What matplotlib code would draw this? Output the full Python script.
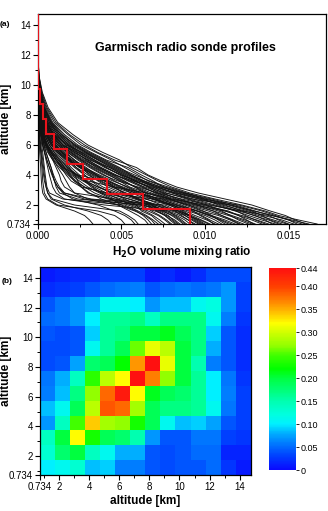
import numpy as np
import matplotlib
matplotlib.use("Agg")
import matplotlib.pyplot as plt
from matplotlib.colors import LinearSegmentedColormap, Normalize

plt.rcParams["font.family"] = ["Liberation Sans", "DejaVu Sans"]

# ---------------------------------------------------------------
# (a) sonde profiles: H2O vmr in units of 1e-3 at these altitudes
# ---------------------------------------------------------------
levels_km = [0.734, 1.0, 1.3, 1.6, 2.0, 2.4, 2.8, 3.2, 3.6, 4.0, 4.5,
             5.0, 5.5, 6.0, 6.7, 7.5, 8.5, 9.5, 10.5, 11.5, 14.734]

sonde_vmr_e3 = [
    [16.7, 15.6, 14.4, 13.6, 12.2, 10.6, 9.1, 8.0, 7.2, 6.5, 5.6, 4.9, 3.9, 3.0, 2.1, 1.2, 0.62, 0.28, 0.10, 0.03, 0.005],
    [16.2, 15.2, 14.0, 13.0, 11.8, 10.4, 8.8, 7.6, 6.6, 6.0, 5.2, 4.4, 3.5, 2.6, 1.8, 1.0, 0.50, 0.22, 0.08, 0.02, 0.004],
    [15.8, 15.0, 14.2, 13.4, 12.0, 9.9, 8.4, 7.5, 6.9, 6.2, 5.4, 4.1, 3.2, 2.4, 1.6, 0.9, 0.45, 0.20, 0.07, 0.02, 0.004],
    [15.3, 14.6, 13.5, 12.6, 11.4, 10.0, 8.9, 7.8, 6.7, 5.8, 4.8, 3.9, 3.0, 2.2, 1.5, 0.85, 0.40, 0.18, 0.06, 0.02, 0.004],
    [14.9, 14.1, 13.2, 12.4, 11.0, 9.6, 8.2, 7.0, 6.2, 5.5, 4.6, 3.7, 2.8, 2.0, 1.3, 0.75, 0.36, 0.16, 0.05, 0.02, 0.004],
    [14.6, 13.9, 13.4, 12.8, 11.6, 9.2, 7.6, 6.6, 5.8, 5.1, 4.3, 3.4, 2.6, 1.9, 1.2, 0.7, 0.35, 0.15, 0.05, 0.01, 0.003],
    [14.2, 13.4, 12.6, 11.8, 10.6, 9.3, 8.0, 6.8, 5.8, 5.0, 4.0, 3.2, 2.5, 1.8, 1.1, 0.6, 0.30, 0.12, 0.04, 0.01, 0.003],
    [13.8, 13.1, 12.2, 11.2, 10.1, 8.9, 7.7, 6.9, 6.1, 5.3, 4.4, 3.6, 2.7, 1.7, 1.0, 0.55, 0.28, 0.12, 0.04, 0.01, 0.003],
    [13.4, 12.8, 12.0, 11.4, 9.8, 8.2, 7.1, 6.2, 5.4, 4.7, 3.8, 3.0, 2.2, 1.6, 0.95, 0.5, 0.25, 0.10, 0.04, 0.01, 0.003],
    [13.0, 12.4, 11.6, 10.8, 9.6, 8.5, 7.4, 6.4, 5.5, 4.6, 3.6, 2.7, 2.0, 1.4, 0.85, 0.45, 0.22, 0.09, 0.03, 0.01, 0.003],
    [12.6, 12.0, 11.5, 11.0, 10.0, 8.0, 6.6, 5.8, 5.1, 4.4, 3.5, 2.9, 2.3, 1.7, 1.1, 0.6, 0.30, 0.13, 0.05, 0.02, 0.003],
    [12.3, 11.7, 11.0, 10.2, 9.0, 7.8, 6.8, 5.9, 5.0, 4.2, 3.3, 2.6, 1.9, 1.3, 0.8, 0.42, 0.20, 0.08, 0.03, 0.01, 0.003],
    [11.8, 11.2, 10.4, 9.6, 8.4, 7.2, 6.1, 5.3, 4.6, 4.0, 3.2, 2.5, 1.8, 1.2, 0.7, 0.38, 0.18, 0.08, 0.03, 0.01, 0.003],
    [11.4, 10.9, 10.2, 9.5, 8.6, 7.5, 5.6, 4.6, 4.0, 3.5, 2.9, 2.2, 1.6, 1.1, 0.65, 0.35, 0.17, 0.07, 0.03, 0.01, 0.003],
    [11.0, 10.6, 10.0, 9.2, 8.0, 6.8, 5.8, 5.0, 4.3, 3.6, 2.7, 2.0, 1.5, 1.0, 0.6, 0.32, 0.16, 0.07, 0.02, 0.01, 0.003],
    [10.6, 10.1, 9.4, 8.8, 7.8, 6.9, 6.2, 5.4, 4.5, 3.7, 2.8, 2.1, 1.4, 0.9, 0.55, 0.3, 0.15, 0.06, 0.02, 0.01, 0.002],
    [10.3, 9.8, 9.2, 8.4, 7.2, 6.0, 5.0, 4.2, 3.6, 3.1, 2.6, 2.0, 1.5, 1.0, 0.6, 0.32, 0.15, 0.06, 0.02, 0.01, 0.002],
    [10.0, 9.6, 9.0, 8.6, 7.9, 6.4, 4.8, 3.9, 3.3, 2.8, 2.2, 1.7, 1.2, 0.8, 0.5, 0.27, 0.13, 0.05, 0.02, 0.01, 0.002],
    [9.7, 9.3, 8.8, 8.0, 7.0, 6.1, 5.3, 4.4, 3.7, 3.0, 2.3, 1.8, 1.3, 0.9, 0.5, 0.25, 0.12, 0.05, 0.02, 0.01, 0.002],
    [9.4, 9.0, 8.5, 7.8, 6.6, 5.4, 4.4, 3.7, 3.2, 2.8, 2.3, 1.9, 1.5, 1.1, 0.7, 0.36, 0.17, 0.07, 0.02, 0.01, 0.002],
    [9.1, 8.8, 8.3, 7.6, 6.8, 5.8, 4.6, 3.6, 2.8, 2.2, 1.6, 1.2, 0.9, 0.6, 0.35, 0.2, 0.1, 0.04, 0.02, 0.01, 0.002],
    [8.8, 8.5, 8.1, 7.4, 6.4, 5.0, 3.8, 3.2, 2.8, 2.5, 2.0, 1.6, 1.2, 0.8, 0.45, 0.24, 0.11, 0.05, 0.02, 0.01, 0.002],
    [8.5, 8.2, 7.7, 7.0, 5.8, 4.6, 3.8, 3.3, 2.9, 2.4, 1.8, 1.3, 0.9, 0.6, 0.35, 0.18, 0.09, 0.04, 0.02, 0.01, 0.002],
    [8.2, 7.9, 7.6, 7.2, 6.3, 4.2, 3.0, 2.6, 2.4, 2.2, 1.9, 1.5, 1.1, 0.7, 0.4, 0.22, 0.1, 0.04, 0.02, 0.01, 0.002],
    [7.9, 7.6, 7.2, 6.6, 5.6, 4.8, 4.1, 3.4, 2.7, 2.1, 1.5, 1.1, 0.8, 0.5, 0.3, 0.15, 0.07, 0.03, 0.01, 0.005, 0.002],
    [7.6, 7.3, 6.9, 6.4, 5.4, 4.3, 3.4, 2.8, 2.3, 1.9, 1.4, 1.0, 0.7, 0.45, 0.25, 0.13, 0.06, 0.03, 0.01, 0.005, 0.002],
    [12.0, 11.5, 10.8, 9.8, 8.8, 7.9, 7.0, 6.3, 5.6, 4.9, 4.1, 3.3, 2.4, 1.5, 0.9, 0.5, 0.25, 0.1, 0.04, 0.01, 0.003],
    [10.8, 10.3, 9.8, 9.0, 8.0, 7.1, 6.4, 5.8, 5.2, 4.5, 3.7, 3.0, 2.2, 1.5, 0.9, 0.5, 0.24, 0.1, 0.03, 0.01, 0.003],
    [9.6, 9.2, 8.8, 8.4, 7.6, 3.2, 1.6, 1.2, 1.0, 0.9, 0.8, 0.65, 0.5, 0.38, 0.25, 0.14, 0.07, 0.03, 0.01, 0.005, 0.002],
    [8.9, 8.6, 8.2, 7.8, 4.0, 1.6, 1.1, 0.9, 0.8, 0.7, 0.6, 0.5, 0.4, 0.3, 0.2, 0.12, 0.06, 0.03, 0.01, 0.005, 0.002],
    [8.0, 7.7, 7.3, 6.8, 6.2, 2.4, 1.3, 1.1, 1.0, 0.9, 0.7, 0.55, 0.42, 0.3, 0.2, 0.1, 0.05, 0.02, 0.01, 0.005, 0.002],
    [7.2, 6.9, 6.5, 6.0, 5.2, 1.5, 0.7, 0.55, 0.5, 0.45, 0.4, 0.35, 0.3, 0.24, 0.16, 0.1, 0.05, 0.02, 0.01, 0.005, 0.002],
    [6.6, 6.4, 6.0, 5.5, 4.8, 2.8, 1.6, 1.3, 1.1, 0.95, 0.8, 0.65, 0.5, 0.36, 0.22, 0.12, 0.06, 0.03, 0.01, 0.005, 0.002],
    [6.0, 5.8, 5.4, 4.9, 2.2, 0.9, 0.6, 0.5, 0.45, 0.4, 0.35, 0.3, 0.24, 0.18, 0.12, 0.07, 0.04, 0.02, 0.01, 0.005, 0.002],
    [5.2, 5.0, 4.6, 3.6, 1.2, 0.6, 0.4, 0.35, 0.3, 0.28, 0.25, 0.22, 0.18, 0.14, 0.1, 0.06, 0.03, 0.015, 0.01, 0.005, 0.002],
    [4.4, 4.2, 3.8, 3.0, 1.6, 0.8, 0.6, 0.5, 0.4, 0.35, 0.3, 0.25, 0.2, 0.15, 0.1, 0.06, 0.03, 0.015, 0.01, 0.005, 0.002],
    [3.3, 3.1, 2.8, 2.2, 1.1, 0.5, 0.3, 0.25, 0.22, 0.2, 0.18, 0.15, 0.12, 0.1, 0.07, 0.04, 0.02, 0.01, 0.005, 0.003, 0.001],
    [11.6, 11.0, 10.3, 9.5, 8.2, 6.9, 4.2, 2.6, 2.0, 1.7, 1.4, 1.1, 0.8, 0.55, 0.32, 0.17, 0.08, 0.04, 0.01, 0.005, 0.002],
    [12.8, 12.2, 11.4, 10.5, 9.2, 7.8, 6.5, 4.6, 3.0, 2.3, 1.8, 1.4, 1.0, 0.7, 0.4, 0.2, 0.1, 0.04, 0.02, 0.01, 0.002],
    [10.2, 9.7, 9.0, 8.2, 7.0, 5.9, 5.1, 4.6, 4.0, 2.4, 1.5, 1.1, 0.8, 0.55, 0.3, 0.16, 0.08, 0.03, 0.01, 0.005, 0.002],
    [7.0, 6.8, 6.4, 5.8, 4.8, 3.8, 3.1, 2.6, 2.2, 1.8, 1.3, 0.9, 0.6, 0.4, 0.22, 0.12, 0.06, 0.03, 0.01, 0.005, 0.002],
    [15.0, 14.4, 13.8, 12.2, 10.2, 8.6, 7.2, 6.0, 4.8, 3.9, 3.1, 2.4, 1.8, 1.3, 0.8, 0.42, 0.2, 0.08, 0.03, 0.01, 0.003],
    [16.0, 15.4, 14.8, 13.9, 12.8, 11.2, 9.6, 8.3, 7.4, 6.6, 5.9, 4.6, 3.6, 2.8, 1.9, 1.1, 0.55, 0.25, 0.09, 0.03, 0.004],
    [14.0, 13.6, 13.0, 12.0, 10.8, 9.9, 8.6, 7.3, 6.4, 5.6, 4.9, 4.0, 3.1, 2.3, 1.4, 0.8, 0.4, 0.17, 0.06, 0.02, 0.003],
    [13.6, 13.0, 12.4, 11.9, 10.4, 9.0, 8.1, 7.2, 6.0, 5.0, 4.1, 3.4, 2.6, 1.9, 1.2, 0.65, 0.3, 0.13, 0.05, 0.02, 0.003],
    [12.9, 12.5, 12.0, 11.2, 9.4, 8.0, 7.2, 6.6, 5.9, 5.2, 4.3, 3.1, 2.4, 1.8, 1.0, 0.55, 0.27, 0.11, 0.04, 0.01, 0.003],
    [11.2, 10.8, 10.4, 9.9, 9.0, 7.6, 6.5, 5.5, 4.9, 4.3, 3.4, 2.6, 2.0, 1.4, 0.8, 0.42, 0.2, 0.08, 0.03, 0.01, 0.003],
    [10.5, 10.2, 9.7, 9.3, 8.3, 7.4, 6.0, 5.1, 4.1, 3.4, 2.5, 1.9, 1.3, 0.9, 0.55, 0.3, 0.14, 0.06, 0.02, 0.01, 0.002],
    [9.9, 9.5, 9.1, 8.7, 8.1, 7.0, 5.9, 4.8, 4.0, 3.3, 2.7, 2.2, 1.7, 1.2, 0.75, 0.4, 0.18, 0.07, 0.03, 0.01, 0.002],
    [9.3, 9.0, 8.6, 8.2, 7.4, 6.5, 5.6, 4.9, 4.2, 3.5, 2.6, 1.8, 1.2, 0.85, 0.5, 0.27, 0.12, 0.05, 0.02, 0.01, 0.002],
    [8.7, 8.4, 8.0, 7.5, 6.9, 6.0, 5.2, 4.5, 3.8, 3.2, 2.5, 1.9, 1.4, 1.0, 0.6, 0.3, 0.14, 0.06, 0.02, 0.01, 0.002],
    [8.3, 8.0, 7.6, 7.1, 6.6, 5.5, 4.0, 2.8, 2.2, 1.9, 1.6, 1.3, 1.0, 0.7, 0.42, 0.22, 0.1, 0.04, 0.02, 0.01, 0.002],
    [7.4, 7.1, 6.8, 6.2, 5.9, 5.2, 4.4, 3.6, 2.9, 2.3, 1.7, 1.2, 0.85, 0.55, 0.3, 0.16, 0.08, 0.03, 0.01, 0.005, 0.002],
    [6.8, 6.6, 6.3, 5.9, 5.0, 4.4, 3.7, 3.0, 2.5, 2.0, 1.5, 1.1, 0.75, 0.5, 0.28, 0.15, 0.07, 0.03, 0.01, 0.005, 0.002],
    [9.8, 9.4, 9.0, 8.5, 6.0, 3.0, 2.2, 1.9, 1.7, 1.5, 1.2, 0.95, 0.7, 0.5, 0.3, 0.16, 0.08, 0.03, 0.01, 0.005, 0.002],
    [8.4, 8.1, 7.8, 7.3, 6.8, 4.6, 2.2, 1.6, 1.4, 1.3, 1.1, 0.9, 0.65, 0.45, 0.28, 0.15, 0.07, 0.03, 0.01, 0.005, 0.002],
    [5.8, 5.6, 5.2, 4.6, 3.6, 2.1, 1.5, 1.2, 1.0, 0.85, 0.7, 0.55, 0.42, 0.3, 0.18, 0.1, 0.05, 0.02, 0.01, 0.005, 0.002],
    [12.1, 11.6, 11.0, 10.5, 9.5, 8.3, 7.5, 6.7, 5.7, 4.6, 3.7, 2.8, 2.1, 1.5, 0.95, 0.5, 0.24, 0.1, 0.04, 0.01, 0.003],
    [14.4, 13.8, 12.9, 12.2, 11.2, 9.7, 8.3, 7.1, 6.3, 5.6, 4.7, 3.8, 2.9, 2.1, 1.3, 0.7, 0.33, 0.14, 0.05, 0.02, 0.003],
    [15.5, 15.0, 14.0, 12.9, 11.5, 10.2, 8.7, 7.4, 6.3, 5.4, 4.5, 3.6, 2.9, 2.2, 1.4, 0.8, 0.38, 0.16, 0.06, 0.02, 0.004],
]

# layer-mean profile (red staircase), layers 0.734 + 1 km each
layer_edges_km = [0.734, 1.734, 2.734, 3.734, 4.734, 5.734, 6.734, 7.734,
                  8.734, 9.734, 10.734, 11.734, 12.734, 13.734, 14.734]
layer_mean_vmr = [0.00908, 0.00628, 0.00413, 0.00273, 0.00174, 0.00100,
                  0.00050, 0.00030, 0.00014, 0.00004, 0.00001, 0.0, 0.0, 0.0]

# ---------------------------------------------------------------
# (b) 14 x 14 matrix, rows listed from top (14.2 km) to bottom (1.2 km)
# ---------------------------------------------------------------
matrix_rows_top_down = [
    [0.010, 0.015, 0.020, 0.020, 0.030, 0.030, 0.030, 0.010, 0.020, 0.010, 0.020, 0.035, 0.035, 0.035],
    [0.020, 0.025, 0.030, 0.040, 0.050, 0.055, 0.060, 0.040, 0.050, 0.055, 0.050, 0.055, 0.070, 0.030],
    [0.040, 0.055, 0.070, 0.080, 0.110, 0.110, 0.100, 0.070, 0.085, 0.085, 0.110, 0.120, 0.070, 0.030],
    [0.050, 0.055, 0.070, 0.100, 0.160, 0.160, 0.170, 0.140, 0.170, 0.170, 0.170, 0.110, 0.060, 0.025],
    [0.040, 0.035, 0.040, 0.090, 0.160, 0.170, 0.200, 0.200, 0.210, 0.190, 0.170, 0.090, 0.040, 0.020],
    [0.035, 0.035, 0.040, 0.110, 0.160, 0.190, 0.260, 0.310, 0.290, 0.200, 0.170, 0.080, 0.040, 0.020],
    [0.035, 0.040, 0.075, 0.180, 0.190, 0.220, 0.360, 0.440, 0.310, 0.200, 0.150, 0.060, 0.040, 0.020],
    [0.055, 0.080, 0.140, 0.240, 0.290, 0.320, 0.440, 0.370, 0.270, 0.200, 0.160, 0.100, 0.055, 0.025],
    [0.060, 0.085, 0.170, 0.270, 0.380, 0.430, 0.320, 0.210, 0.190, 0.180, 0.160, 0.100, 0.060, 0.030],
    [0.085, 0.110, 0.190, 0.290, 0.390, 0.380, 0.280, 0.190, 0.170, 0.170, 0.160, 0.110, 0.055, 0.030],
    [0.070, 0.140, 0.250, 0.340, 0.280, 0.270, 0.230, 0.190, 0.110, 0.085, 0.090, 0.075, 0.040, 0.030],
    [0.140, 0.200, 0.320, 0.230, 0.190, 0.180, 0.150, 0.070, 0.040, 0.040, 0.055, 0.055, 0.030, 0.025],
    [0.130, 0.180, 0.200, 0.140, 0.110, 0.080, 0.080, 0.040, 0.035, 0.040, 0.050, 0.050, 0.015, 0.015],
    [0.100, 0.110, 0.130, 0.085, 0.090, 0.060, 0.060, 0.040, 0.035, 0.040, 0.040, 0.050, 0.025, 0.010],
]

alt_ticks = [0.734, 2, 4, 6, 8, 10, 12, 14]
alt_tick_labels = ["0.734", "2", "4", "6", "8", "10", "12", "14"]
cbar_ticks = [0, 0.05, 0.10, 0.15, 0.20, 0.25, 0.30, 0.35, 0.40, 0.44]
cbar_labels = ["0", "0.05", "0.10", "0.15", "0.20", "0.25", "0.30", "0.35", "0.40", "0.44"]

# Origin-like rainbow, anchors taken from the colour bar
cmap_anchors = [(0.00, "#0a0aff"), (0.03, "#0040ff"), (0.06, "#0080ff"),
                (0.08, "#00b0ff"), (0.10, "#00f0ff"), (0.12, "#00ffe0"),
                (0.15, "#00ffb0"), (0.17, "#00ff80"), (0.20, "#00ff40"),
                (0.22, "#00ff00"), (0.25, "#40ff00"), (0.27, "#90ff00"),
                (0.30, "#d0ff00"), (0.32, "#ffff00"), (0.35, "#ffb000"),
                (0.37, "#ff8000"), (0.40, "#ff4000"), (0.44, "#ff1010")]
vmax = 0.44
cmap = LinearSegmentedColormap.from_list(
    "origin", [(v / vmax, c) for v, c in cmap_anchors], N=256)

W, H = 328, 511
fig = plt.figure(figsize=(W / 100, H / 100), dpi=100)


def style_ticks(ax):
    ax.tick_params(which="major", direction="out", length=3.5, width=0.8,
                   labelsize=7, pad=1.5, top=False, right=False)
    ax.tick_params(which="minor", direction="out", length=2, width=0.7,
                   top=False, right=False)
    for s in ax.spines.values():
        s.set_linewidth(0.9)


# ---------------- panel (a) ----------------
ax1 = fig.add_axes([37.7 / W, 1 - 224 / H, 288.3 / W, 210 / H])
for prof in sonde_vmr_e3:
    ax1.plot(np.array(prof) * 1e-3, levels_km, color="#111111", lw=0.65)
ax1.stairs(layer_mean_vmr, layer_edges_km, orientation="horizontal",
           baseline=None, color="#e8141c", lw=1.5, zorder=5)
ax1.set_xlim(0, 0.01723)
ax1.set_ylim(0.734, 14.734)
ax1.set_xticks([0, 0.005, 0.010, 0.015])
ax1.set_xticklabels(["0.000", "0.005", "0.010", "0.015"])
ax1.set_xticks(np.arange(0.0025, 0.0172, 0.005), minor=True)
ax1.set_yticks(alt_ticks)
ax1.set_yticklabels(alt_tick_labels)
ax1.set_yticks(np.arange(1, 15, 2), minor=True)
style_ticks(ax1)
ax1.set_xlabel("H$_\\mathbf{2}$O volume mixing ratio", fontsize=8.5,
               fontweight="bold", labelpad=2)
ax1.set_ylabel("altitude [km]", fontsize=8.5, fontweight="bold")
ax1.yaxis.set_label_coords((12 - 37.7) / 288.3, 0.5)
ax1.text(0.511, 0.838, "Garmisch radio sonde profiles", transform=ax1.transAxes,
         ha="center", va="center", fontsize=9, fontweight="bold")

# ---------------- panel (b) ----------------
ax2 = fig.add_axes([40 / W, 1 - 475 / H, 210.7 / W, 208 / H])
mat = np.flipud(np.array(matrix_rows_top_down))
mesh = ax2.pcolormesh(layer_edges_km, layer_edges_km, mat, cmap=cmap,
                      norm=Normalize(0, vmax), shading="flat")
ax2.set_xlim(0.734, 14.734)
ax2.set_ylim(0.734, 14.734)
for setter in (ax2.set_xticks, ax2.set_yticks):
    setter(alt_ticks)
    setter(np.arange(1, 15, 2), minor=True)
ax2.set_xticklabels(alt_tick_labels)
ax2.set_yticklabels(alt_tick_labels)
style_ticks(ax2)
ax2.set_xlabel("altitude [km]", fontsize=8.5, fontweight="bold", labelpad=2)
ax2.set_ylabel("altitude [km]", fontsize=8.5, fontweight="bold")
ax2.yaxis.set_label_coords((12 - 40) / 210.7, 0.5)

cax = fig.add_axes([269 / W, 1 - 470 / H, 27 / W, 202 / H])
cb = fig.colorbar(mesh, cax=cax)
cb.outline.set_visible(False)
cb.set_ticks(cbar_ticks)
cb.set_ticklabels(cbar_labels)
cax.tick_params(labelsize=6.5, length=2, width=0.6, pad=1.5)

fig.text(0.0, 1 - 25 / H, "(a)", fontsize=6, fontweight="bold", va="center")
fig.text(0.005, 1 - 281 / H, "(b)", fontsize=6, fontweight="bold", va="center")

fig.savefig("out.png", dpi=100)
